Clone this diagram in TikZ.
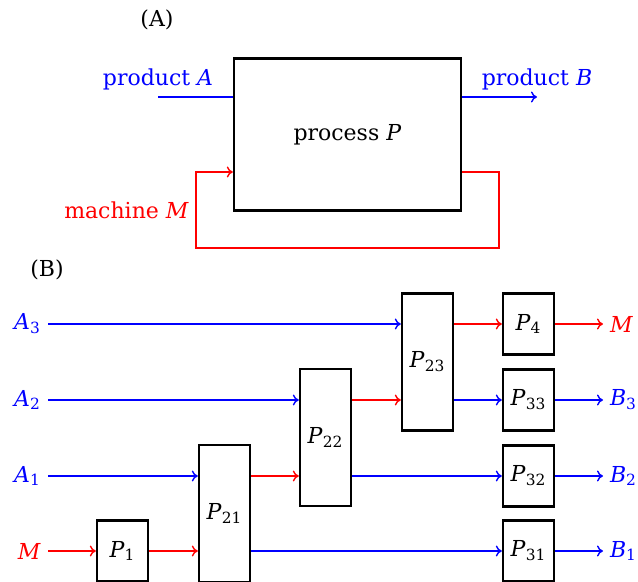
\documentclass[tikz,border=0pt]{standalone}
\usepackage{fontspec}
\setmainfont{DejaVu Serif}
\usetikzlibrary{arrows.meta,positioning}
\newcommand{\mv}[2]{\textit{#1}\textsubscript{#2}}

\begin{document}
\begin{tikzpicture}[x=0.5pt, y=-0.5pt, font=\fontsize{11}{13}\selectfont,
        >={To[length=3pt, width=5.5pt]},
        box/.style={draw, line width=1.2pt, minimum width=25.5pt, minimum height=30.5pt, inner sep=0pt},
        tall/.style={box, minimum height=68.5pt},
        flowA/.style={blue, line width=0.7pt, ->}, flowM/.style={red, line width=0.7pt, ->}]
        \useasboundingbox (0, 0) rectangle (638, 582);

        \node (capA) at (157, 20) {(A)};
        \node[box, minimum width=113.5pt, minimum height=76pt] (P) at (347.5, 134.5) {process \textit{P}};
        \coordinate (inA) at (158, 97);
        \coordinate (outB) at (537, 97);
        \coordinate (loopR) at (499, 248);
        \coordinate (loopL) at (196, 172);
        \node[blue, above] (prodA) at (inA) {product \textit{A}};
        \node[blue, above] (prodB) at (outB) {product \textit{B}};
        \node[red, left] (mach) at (196, 210) {machine \textit{M}};
        \draw[blue, line width=0.7pt] (inA) -- (P.west |- inA);
        \draw[flowA] (P.east |- outB) -- (outB);
        \draw[flowM] (P.east |- loopL) -| (loopR) -| (loopL) -- (P.west |- loopL);

        \node (capB) at (47, 270) {(B)};
        \node[blue, anchor=east] (A3) at (48, 324) {\mv{A}{3}};
        \node[blue, anchor=east] (A2) at (48, 400) {\mv{A}{2}};
        \node[blue, anchor=east] (A1) at (48, 476) {\mv{A}{1}};
        \node[red, anchor=east] (Min) at (48, 551) {\textit{M}};
        \node[box] (P1) at (122.5, 551) {\mv{P}{1}};
        \node[tall] (P21) at (224.5, 513.5) {\mv{P}{21}};
        \node[tall] (P22) at (325.5, 437.5) {\mv{P}{22}};
        \node[tall] (P23) at (427.5, 362) {\mv{P}{23}};
        \node[box] (P4) at (528.5, 324) {\mv{P}{4}};
        \node[box] (P33) at (528.5, 400) {\mv{P}{33}};
        \node[box] (P32) at (528.5, 476) {\mv{P}{32}};
        \node[box] (P31) at (528.5, 551) {\mv{P}{31}};
        \node[red, anchor=west] (Mout) at (603, 324) {\textit{M}};
        \node[blue, anchor=west] (B3) at (603, 400) {\mv{B}{3}};
        \node[blue, anchor=west] (B2) at (603, 476) {\mv{B}{2}};
        \node[blue, anchor=west] (B1) at (603, 551) {\mv{B}{1}};

        \draw[flowA] (A3) -- (P23.west |- A3);
        \draw[flowM] (P23.east |- A3) -- (P4);
        \draw[flowM] (P4) -- (Mout);
        \draw[flowA] (A2) -- (P22.west |- A2);
        \draw[flowM] (P22.east |- A2) -- (P23.west |- A2);
        \draw[flowA] (P23.east |- A2) -- (P33);
        \draw[flowA] (P33) -- (B3);
        \draw[flowA] (A1) -- (P21.west |- A1);
        \draw[flowM] (P21.east |- A1) -- (P22.west |- A1);
        \draw[flowA] (P22.east |- A1) -- (P32);
        \draw[flowA] (P32) -- (B2);
        \draw[flowM] (Min) -- (P1);
        \draw[flowM] (P1) -- (P21.west |- Min);
        \draw[flowA] (P21.east |- Min) -- (P31);
        \draw[flowA] (P31) -- (B1);
\end{tikzpicture}
\end{document}
